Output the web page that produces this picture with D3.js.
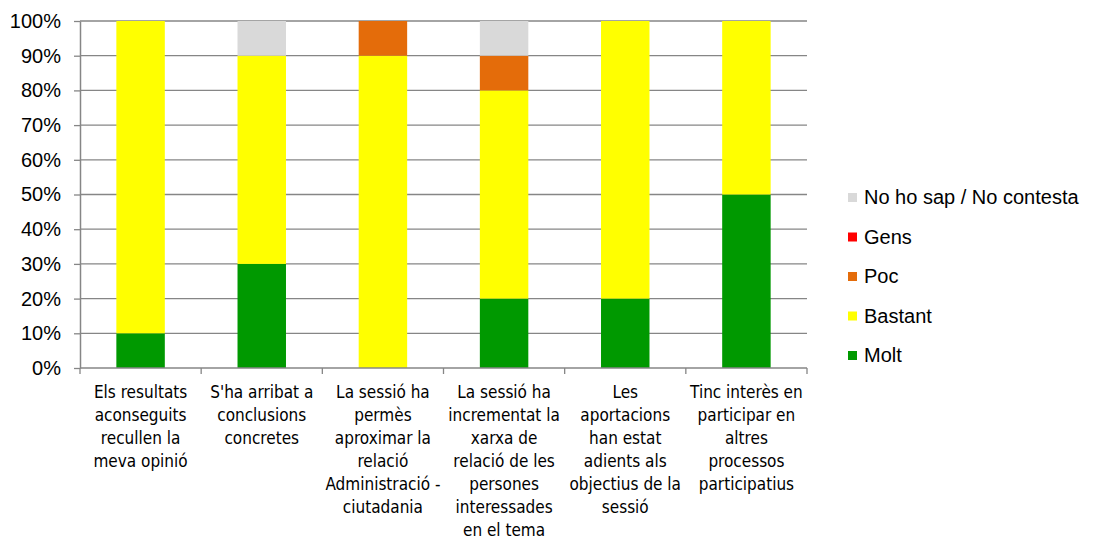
<!DOCTYPE html>
<html>
<head>
<meta charset="utf-8">
<script src="https://cdn.jsdelivr.net/npm/d3@7"></script>
<style>
body { margin: 0; background: #fff; }
</style>
</head>
<body>
<div id="chart"></div>
<script>
var categories = [
	["Els resultats", "aconseguits", "recullen la", "meva opinió"],
	["S'ha arribat a", "conclusions", "concretes"],
	["La sessió ha", "permès", "aproximar la", "relació", "Administració -", "ciutadania"],
	["La sessió ha", "incrementat la", "xarxa de", "relació de les", "persones", "interessades", "en el tema"],
	["Les", "aportacions", "han estat", "adients als", "objectius de la", "sessió"],
	["Tinc interès en", "participar en", "altres", "processos", "participatius"]
];

var seriesNames = ["Molt", "Bastant", "Poc", "Gens", "No ho sap / No contesta"];
var molt = [10, 30, 0, 20, 20, 50];
var bastant = [90, 60, 90, 60, 80, 50];
var poc = [0, 0, 10, 10, 0, 0];
var gens = [0, 0, 0, 0, 0, 0];
var nsnc = [0, 10, 0, 10, 0, 0];
var colors = ["#009900", "#ffff00", "#e46c0a", "#ff0000", "#d9d9d9"];
var yTicks = [0, 10, 20, 30, 40, 50, 60, 70, 80, 90, 100];

var width = 1094, height = 540;
var plotLeft = 80, plotRight = 807, plotTop = 21, plotBottom = 368;

var svg = d3.select("#chart")
	.append("svg")
	.attr("width", width)
	.attr("height", height);

var rows = categories.map(function(c, i){
	return {i: i, Molt: molt[i], Bastant: bastant[i], Poc: poc[i], Gens: gens[i], "No ho sap / No contesta": nsnc[i]};
});

var x = d3.scaleBand()
	.domain(d3.range(categories.length))
	.range([plotLeft, plotRight])
	.paddingInner(0.6)
	.paddingOuter(0.3);

var xOuter = d3.scaleBand()
	.domain(d3.range(categories.length))
	.range([plotLeft, plotRight]);

var y = d3.scaleLinear()
	.domain([0, 100])
	.range([plotBottom, plotTop]);

// gridlines
svg.append("g")
	.selectAll("line")
	.data(yTicks.slice(1))
	.enter().append("line")
	.attr("x1", plotLeft)
	.attr("x2", plotRight)
	.attr("y1", function(d){ return y(d); })
	.attr("y2", function(d){ return y(d); })
	.style("stroke", "#868686")
	.style("stroke-width", 1.3);

// bars
var stack = d3.stack().keys(seriesNames)(rows);

svg.append("g")
	.selectAll("g")
	.data(stack)
	.enter().append("g")
	.attr("fill", function(d, i){ return colors[i]; })
	.selectAll("rect")
	.data(function(d){ return d; })
	.enter().append("rect")
	.attr("x", function(d){ return x(d.data.i); })
	.attr("width", x.bandwidth())
	.attr("y", function(d){ return y(d[1]); })
	.attr("height", function(d){ return y(d[0]) - y(d[1]); });

// y axis
var yAxis = svg.append("g")
	.attr("transform", "translate(" + plotLeft + ",0)")
	.call(d3.axisLeft(y).tickValues(yTicks).tickSize(6).tickSizeOuter(0).tickPadding(13)
		.tickFormat(function(d){ return d + "%"; }));
yAxis.select(".domain").style("stroke", "#868686").style("stroke-width", 1.5);
yAxis.selectAll(".tick line").style("stroke", "#868686").style("stroke-width", 1.3);
yAxis.selectAll("text")
	.style("font-family", "Liberation Sans, Arial, sans-serif")
	.style("font-size", "20px")
	.style("fill", "#000");

// x axis
var boundaries = d3.range(categories.length + 1).map(function(i){
	return plotLeft + i * xOuter.step();
});
svg.append("line")
	.attr("x1", plotLeft)
	.attr("x2", plotRight)
	.attr("y1", plotBottom)
	.attr("y2", plotBottom)
	.style("stroke", "#868686")
	.style("stroke-width", 1.5);
svg.append("g")
	.selectAll("line")
	.data(boundaries)
	.enter().append("line")
	.attr("x1", function(d){ return d; })
	.attr("x2", function(d){ return d; })
	.attr("y1", plotBottom)
	.attr("y2", plotBottom + 6)
	.style("stroke", "#868686")
	.style("stroke-width", 1.3);

// category labels
categories.forEach(function(lines, i){
	var cx = xOuter(i) + xOuter.bandwidth() / 2;
	var t = svg.append("text")
		.attr("x", cx)
		.attr("y", 398)
		.attr("text-anchor", "middle")
		.style("font-family", "DejaVu Sans Condensed, Liberation Sans Narrow, sans-serif")
		.style("font-stretch", "condensed")
		.style("font-size", "17px")
		.style("fill", "#000");
	lines.forEach(function(l, j){
		t.append("tspan")
			.attr("x", cx)
			.attr("dy", j === 0 ? 0 : 23)
			.text(l);
	});
});

// legend
var legendOrder = seriesNames.slice().reverse();
var legend = svg.append("g")
	.selectAll("g")
	.data(legendOrder)
	.enter().append("g")
	.attr("transform", function(d, i){ return "translate(848," + (197 + i * 39.5) + ")"; });
legend.append("rect")
	.attr("x", 0)
	.attr("y", -4)
	.attr("width", 9)
	.attr("height", 9)
	.attr("fill", function(d){ return colors[seriesNames.indexOf(d)]; });
legend.append("text")
	.attr("x", 16)
	.attr("y", 7)
	.style("font-family", "Liberation Sans, Arial, sans-serif")
	.style("font-size", "20px")
	.style("fill", "#000")
	.text(function(d){ return d; });
</script>
</body>
</html>
